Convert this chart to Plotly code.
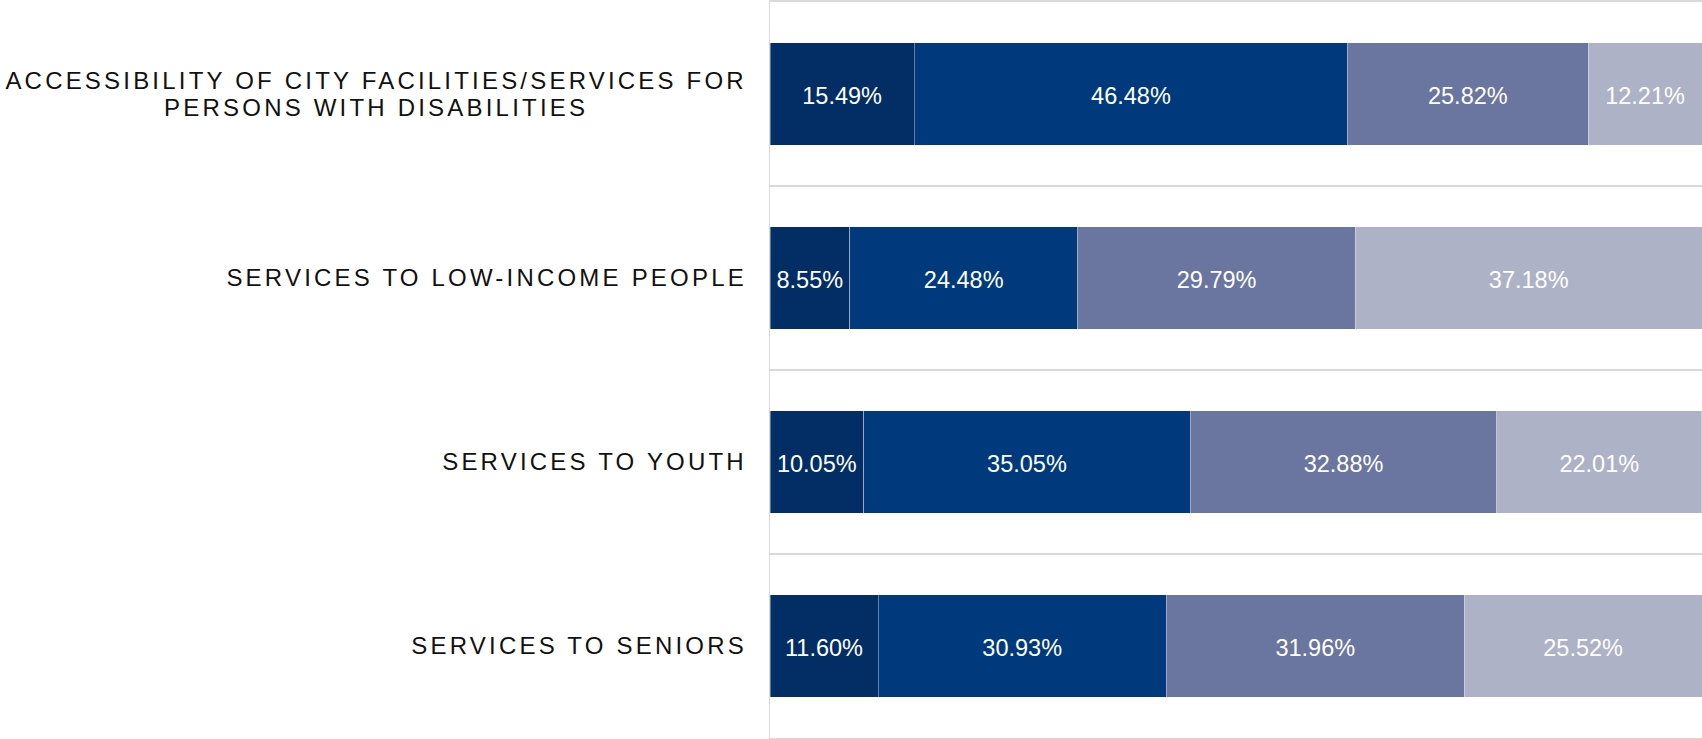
import plotly.graph_objects as go

# ---- data ----
categories = [
    "ACCESSIBILITY OF CITY FACILITIES/SERVICES FOR<br>PERSONS WITH DISABILITIES",
    "SERVICES TO LOW-INCOME PEOPLE",
    "SERVICES TO YOUTH",
    "SERVICES TO SENIORS",
]
series_names = ["Excellent", "Good", "Fair", "Poor"]
excellent = [15.49, 8.55, 10.05, 11.60]
good = [46.48, 24.48, 35.05, 30.93]
fair = [25.82, 29.79, 32.88, 31.96]
poor = [12.21, 37.18, 22.01, 25.52]

colors = ["#022d65", "#003a7d", "#6a769f", "#adb2c6"]
FONT = "Arial, 'Liberation Sans', sans-serif"

fig = go.Figure()
for name, vals, col in zip(series_names, [excellent, good, fair, poor], colors):
    fig.add_trace(go.Bar(
        name=name,
        y=categories,
        x=vals,
        orientation="h",
        marker=dict(color=col, line=dict(color="rgba(255,255,255,0.45)", width=0.8)),
        text=vals,
        texttemplate="%{x:.2f}%",
        textposition="inside",
        insidetextanchor="middle",
        textangle=0,
        insidetextfont=dict(color="white", size=23.5, family=FONT),
        showlegend=False,
    ))

fig.update_layout(
    barmode="stack",
    bargap=0.445,
    width=1702,
    height=739,
    margin=dict(l=770, r=0, t=2, b=1),
    paper_bgcolor="white",
    plot_bgcolor="white",
    font=dict(family=FONT),
    uniformtext=dict(minsize=8, mode="show"),
)
fig.update_xaxes(
    range=[0, 100],
    showticklabels=False,
    showgrid=False,
    zeroline=False,
    showline=True,
    mirror=True,
    linecolor="#d9d9d9",
    linewidth=2,
    fixedrange=True,
)
fig.update_yaxes(
    type="category",
    categoryorder="array",
    categoryarray=categories,
    autorange="reversed",
    tickson="boundaries",
    ticks="",
    showgrid=True,
    gridcolor="#d9d9d9",
    gridwidth=2,
    showline=True,
    linecolor="#d9d9d9",
    linewidth=1.5,
    ticklabelstandoff=20,
    tickfont=dict(size=24, color="#111111", family=FONT),
    fixedrange=True,
)

post = """
(function(){
  document.body.style.margin='0';
  document.body.style.overflow='hidden';
  var gd = document.getElementById('{plot_id}');
  var LS = 3.2, FS = 24, LH = 1.13, SHIFT = 0.5;
  function fix(){
    gd.querySelectorAll('.ytick text').forEach(function(t){
      var spans = t.querySelectorAll('tspan.line');
      var x0 = t.getAttribute('data-x0');
      if (x0 === null) {
        x0 = t.getAttribute('x'); t.setAttribute('data-x0', x0);
        var b0 = t.getBBox();
        t.setAttribute('data-yc', b0.y + b0.height / 2);
      }
      x0 = parseFloat(x0);
      var yc = parseFloat(t.getAttribute('data-yc'));
      t.style.letterSpacing = LS + 'px';
      t.setAttribute('text-anchor','end');
      t.setAttribute('x', x0);
      spans.forEach(function(s){ s.setAttribute('text-anchor','end'); s.setAttribute('x', x0); });
      var W = t.getBBox().width;
      var cx = x0 - W/2 + LS;
      t.setAttribute('text-anchor','middle');
      t.setAttribute('x', cx);
      var n = spans.length;
      spans.forEach(function(s, i){
        s.setAttribute('text-anchor','middle');
        s.setAttribute('x', cx);
        if (n > 1) {
          s.removeAttribute('dy');
          s.setAttribute('y', yc + SHIFT + (i - (n - 1) / 2) * LH * FS + 0.3465 * FS);
        }
      });
    });
    gd.querySelectorAll('text.bartext').forEach(function(t){ t.setAttribute('dy', '2'); });
  }
  fix();
  gd.on('plotly_afterplot', fix);
})();
"""

fig.write_html("out.html", post_script=post, config={"displayModeBar": False, "staticPlot": True})
